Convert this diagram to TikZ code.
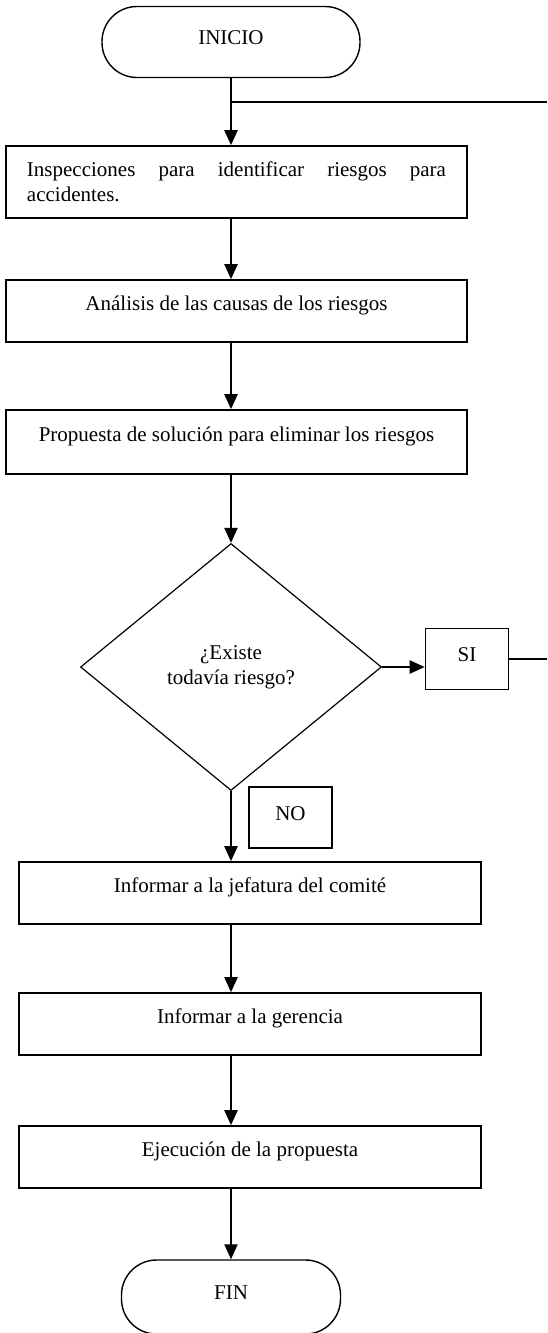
\documentclass[tikz,border=0pt]{standalone}
\usepackage{fontspec}
\setmainfont{Liberation Serif}
\usetikzlibrary{arrows.meta,shapes.geometric}
\hyphenpenalty=10000

\begin{document}
\begin{tikzpicture}[x=1pt,y=-1pt,
    font=\fontsize{21}{25}\selectfont,
    term/.style={draw, line width=1.4pt, rounded corners=35pt, minimum height=71pt,
      inner sep=0pt, text height=15pt, text depth=10pt},
    proc/.style={draw, line width=1.6pt, minimum width=461pt, inner sep=0pt,
      text height=30pt, text depth=32pt},
    tag/.style={draw, line width=1.6pt, minimum width=83pt, minimum height=61pt,
      inner sep=0pt, text height=15pt, text depth=10pt},
    arr/.style={line width=2.2pt, -{Triangle[length=15pt,width=13pt]}},
    link/.style={line width=1.4pt}]

    \useasboundingbox (0,0) rectangle (547,1333);

    % Start and end
    \node [term, minimum width=258pt] (ini) at (231,42) {INICIO};
    \node [term, minimum width=219pt, minimum height=74pt] (fin) at (231,1297) {FIN};

    % Steps
    \node [proc, minimum height=72pt, text height={}, text depth={}, inner xsep=21pt,
      text width=419pt, align=justify] (b1) at (236.5,182)
      {Inspecciones para identificar riesgos para accidentes.};
    \node [proc] (b2) at (236.5,311) {Análisis de las causas de los riesgos};
    \node [proc, minimum height=64pt] (b3) at (236.5,442)
      {Propuesta de solución para eliminar los riesgos};
    \node [proc, minimum width=462pt] (b4) at (250,893) {Informar a la jefatura del comité};
    \node [proc, minimum width=462pt] (b5) at (250,1024) {Informar a la gerencia};
    \node [proc, minimum width=462pt] (b6) at (250,1157) {Ejecución de la propuesta};

    % Decision
    \node [draw, diamond, line width=1.2pt, minimum width=301pt, minimum height=247pt,
      inner sep=0pt, align=center] (dec) at (231,667) {¿Existe\\todavía riesgo?};
    \node [tag] (si) at (467,659) {SI};
    \node [tag] (no) at (290.5,817.5) {NO};

    % Loose ends on the right
    \coordinate (e1) at (547,102);
    \coordinate (e2) at (547,659);

    \draw [arr] (ini.south) -- (ini |- b1.north);
    \draw [link] (ini |- e1) -- (e1);

    \foreach \a/\b in {b1/b2, b2/b3, b3/dec, b4/b5, b5/b6, b6/fin} {
      \draw [arr] (dec |- \a.south) -- (dec |- \b.north);
    }

    \draw [arr] (dec.east) -- (dec.east -| si.west);
    \draw [link] (si.east) -- (e2);
    \draw [arr] (dec.south) -- (dec |- b4.north);

  \end{tikzpicture}
\end{document}
